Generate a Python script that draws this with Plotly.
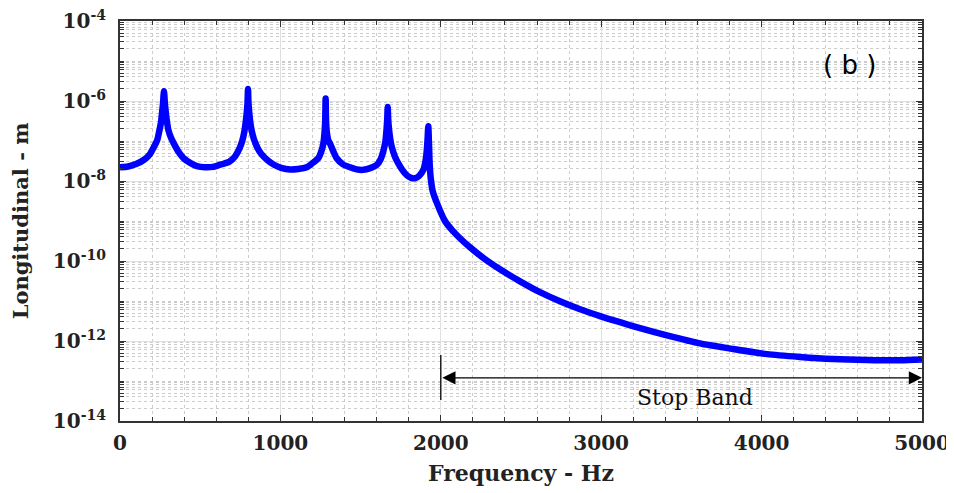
import plotly.graph_objects as go

# Frequency (Hz) and longitudinal displacement (m)
freq = [0, 50, 100, 150, 185, 212, 232, 246, 256, 262, 268, 274, 280, 286, 293, 302, 318, 340, 362, 400,
        440, 480, 530, 580, 630, 680, 717, 745, 762, 775, 784, 790, 795, 798, 801, 806, 812, 821, 835,
        855, 880, 920, 960, 1010, 1060, 1110, 1164, 1205, 1236, 1255, 1268, 1275, 1279, 1282, 1285, 1290,
        1300, 1309, 1330, 1351, 1390, 1434, 1475, 1517, 1560, 1600, 1625, 1641, 1655, 1662, 1666, 1669,
        1672, 1677, 1685, 1694, 1715, 1735, 1760, 1787, 1815, 1839, 1865, 1891, 1905, 1913, 1918, 1922,
        1926, 1931, 1938, 1950, 1976, 2026, 2076, 2182, 2288, 2369, 2494, 2618, 2743, 2868, 2993, 3117,
        3242, 3410, 3616, 3822, 4034, 4239, 4445, 4657, 4863, 5000]
disp = [2.2e-8, 2.3e-8, 2.65e-8, 3.4e-8, 4.6e-8, 7.2e-8, 1.05e-7, 1.86e-7, 3.0e-7, 5.0e-7, 8.5e-7, 1.75e-6,
        8.5e-7, 5.0e-7, 3.0e-7, 1.86e-7, 1.2e-7, 8.0e-8, 5.6e-8, 3.6e-8,
        2.8e-8, 2.35e-8, 2.2e-8, 2.25e-8, 2.6e-8, 3.0e-8, 4.1e-8, 6.5e-8, 1.0e-7, 1.7e-7, 3.0e-7, 5.0e-7,
        9.0e-7, 2.0e-6, 9.0e-7, 5.0e-7, 3.0e-7, 1.8e-7, 1.1e-7,
        7.0e-8, 4.8e-8, 3.3e-8, 2.55e-8, 2.1e-8, 1.95e-8, 2.0e-8, 2.2e-8, 2.9e-8, 3.7e-8, 5.5e-8, 8.7e-8,
        1.6e-7, 3.0e-7, 1.15e-6, 3.0e-7, 1.6e-7,
        1.0e-7, 8.7e-8, 5.5e-8, 3.7e-8, 2.6e-8, 2.2e-8, 1.95e-8, 1.9e-8, 2.1e-8, 2.5e-8, 3.5e-8, 5.4e-8,
        1.0e-7, 2.0e-7, 3.5e-7, 7.1e-7,
        3.5e-7, 2.0e-7, 1.1e-7, 7.2e-8, 4.0e-8, 2.75e-8, 1.9e-8, 1.4e-8, 1.2e-8, 1.17e-8, 1.35e-8, 1.9e-8,
        3.2e-8, 6.0e-8, 1.2e-7, 2.35e-7,
        9.0e-8, 2.5e-8, 1.1e-8, 5.5e-9, 2.8e-9, 1.0e-9, 5.6e-10, 2.2e-10, 1.02e-10, 6.2e-11, 3.1e-11,
        1.66e-11, 9.8e-12, 6.2e-12, 4.2e-12, 2.95e-12,
        2.1e-12, 1.38e-12, 8.7e-13, 6.3e-13, 4.7e-13, 4.0e-13, 3.55e-13, 3.35e-13, 3.3e-13, 3.47e-13]

xtick_vals = [0, 1000, 2000, 3000, 4000, 5000]
ytick_vals = [1e-14, 1e-12, 1e-10, 1e-8, 1e-6, 1e-4]
ytick_text = ["10<sup>-14</sup>", "10<sup>-12</sup>", "10<sup>-10</sup>", "10<sup>-8</sup>",
              "10<sup>-6</sup>", "10<sup>-4</sup>"]

stop_start = 2000
stop_end = 5000
stop_label = "Stop Band"
panel_label = "( b )"

serif = "DejaVu Serif"
grid_major = "#e0e0e0"
grid_minor = "#cccccc"
axis_col = "#333333"

fig = go.Figure()
fig.add_trace(go.Scatter(x=freq, y=disp, mode="lines",
                         line=dict(color="#0000ff", width=6.5, shape="spline", smoothing=0.7),
                         showlegend=False))

fig.update_layout(
    width=954, height=493,
    margin=dict(l=112, r=40, t=13, b=80),
    paper_bgcolor="white", plot_bgcolor="white",
    xaxis=dict(
        range=[0, 5000], tickvals=xtick_vals, ticks="inside", ticklen=6, tickcolor=axis_col,
        showline=True, linecolor=axis_col, linewidth=2, mirror="ticks",
        showgrid=True, gridcolor=grid_major, gridwidth=1, zeroline=False,
        tickfont=dict(family=serif, size=20, color="#222", weight="bold"),
        ticklabelstandoff=3, ticklabeloverflow="allow",
        minor=dict(dtick=200, tick0=0, ticks="inside", ticklen=4, tickcolor=axis_col,
                   showgrid=True, gridcolor=grid_minor, griddash="dot", gridwidth=1),
        title=dict(text="Frequency - Hz", standoff=12,
                   font=dict(family=serif, size=22, color="#222", weight="bold")),
        automargin=False,
    ),
    yaxis=dict(
        type="log", range=[-14, -4], tickvals=ytick_vals, ticktext=ytick_text,
        ticks="inside", ticklen=6, tickcolor=axis_col,
        showline=True, linecolor=axis_col, linewidth=2, mirror="ticks",
        showgrid=True, gridcolor=grid_major, gridwidth=1, zeroline=False,
        tickfont=dict(family=serif, size=20, color="#222", weight="bold"),
        ticklabelstandoff=8, ticklabeloverflow="allow",
        minor=dict(dtick="D1", ticks="inside", ticklen=4, tickcolor=axis_col,
                   showgrid=True, gridcolor=grid_minor, griddash="dot", gridwidth=1),
        title=dict(text="Longitudinal - m", standoff=28,
                   font=dict(family=serif, size=21, color="#222", weight="bold")),
        automargin=False,
    ),
)

# Stop band arrow
arrow_y = -12.92
fig.add_annotation(x=stop_end, y=arrow_y, ax=stop_start, ay=arrow_y, xref="x", yref="y",
                   axref="x", ayref="y", text="", showarrow=True, arrowhead=2, arrowside="end+start",
                   arrowsize=2.2, arrowwidth=1.2, arrowcolor="black")
fig.add_shape(type="line", x0=stop_start, x1=stop_start, xref="x", yref="paper",
              y0=0.0525, y1=0.165, line=dict(color="black", width=1.3))
fig.add_annotation(x=(stop_start + stop_end) / 2 + 85, y=-13.4, xref="x", yref="y", text=stop_label,
                   showarrow=False, font=dict(family=serif, size=22, color="#111"))
fig.add_annotation(x=4551, y=-5.1, xref="x", yref="y", text=panel_label, showarrow=False,
                   font=dict(family="DejaVu Sans", size=26, color="black"))

fig.write_html("out.html")
